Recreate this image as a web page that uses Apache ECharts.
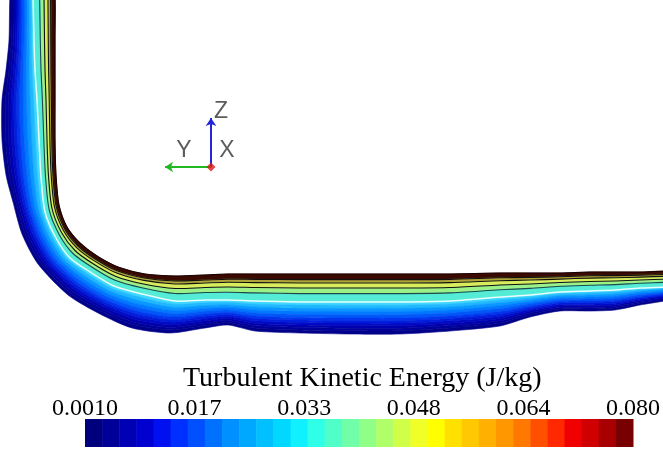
<!DOCTYPE html>
<html>
<head>
<meta charset="utf-8">
<script src="https://cdn.jsdelivr.net/npm/echarts@6/dist/echarts.min.js"></script>
<style>
  html, body { margin: 0; padding: 0; background: #fff; }
  #chart { width: 663px; height: 449px; }
</style>
</head>
<body>
<div id="chart"></div>
<script>
// cross-sections along the wall: wall edge, white contour line, outer edge of the layer
const wallPts = [
  [55, -5], [55, 40], [55, 70], [55, 100], [55, 140], [56, 175], [59, 205], [67, 227],
  [80, 243], [97, 256], [118, 267], [145, 274], [175, 276], [205, 275], [228, 274],
  [255, 274], [300, 274], [350, 274], [400, 274], [450, 274], [500, 273], [530, 273],
  [560, 273], [590, 272], [615, 272], [640, 272], [670, 271]
];
const whitePts = [
  [33, -5], [34, 40], [35, 70], [37, 100], [39, 140], [41, 177], [45, 212], [56, 238],
  [70, 258], [90, 272], [114, 286], [142, 294], [175, 301], [205, 300], [228, 300],
  [255, 301], [300, 302], [350, 302], [400, 302], [450, 301], [500, 297], [530, 295],
  [560, 292], [590, 291], [615, 290], [640, 288], [670, 287]
];
const outerPts = [
  [10, -5], [9, 40], [6, 70], [2, 100], [2, 140], [6, 175], [13, 202], [22, 234],
  [38, 264], [68, 295], [100, 314], [132, 328], [170, 333], [205, 328], [228, 325],
  [255, 331], [300, 333], [350, 334], [400, 334], [450, 331], [500, 326], [530, 317],
  [560, 311], [590, 311], [615, 310], [640, 305], [670, 300]
];

// bands: [from, to] in section units (0 wall, 1 white line, 2 outer edge)
const bandFrom = [0, 0.2, 0.32, 0.5, 0.7, 1.0, 1.1, 1.2, 1.3, 1.4, 1.5, 1.58, 1.66, 1.74, 1.82, 1.9];
const bandTo   = [0.2, 0.32, 0.5, 0.7, 1.0, 1.1, 1.2, 1.3, 1.4, 1.5, 1.58, 1.66, 1.74, 1.82, 1.9, 2.0];
const bandColors = ['#3a0a00', '#b0a438', '#d8ec5c', '#9cf088', '#54ecd6',
  '#40d8ff', '#20b8ff', '#0898ff', '#0078ff', '#0058f8', '#0038ee', '#0020de',
  '#000cc8', '#0000b0', '#00009c', '#00008a'];

// contour lines drawn on top
const lineLevels = [0, 0.2, 0.32, 0.5, 0.7, 1.0];
const lineColors = ['#1a0000', '#111', '#111', '#111', '#1c4a48', '#e8ffff'];

// colour legend
const colorbarColors = ['#00007c', '#000098', '#0000b4', '#0000d0', '#0010f0', '#0030ff',
  '#0050ff', '#0070ff', '#0090ff', '#00a8ff', '#00c0ff', '#00d8ff', '#10f0ff', '#30ffe8',
  '#50ffc8', '#70ffa8', '#90ff88', '#b0ff68', '#d0ff48', '#f0ff28', '#ffff00', '#ffe000',
  '#ffc800', '#ffb000', '#ff9800', '#ff7800', '#ff5000', '#ff2800', '#f00000', '#d00000',
  '#a80000', '#780000'];
const tickLabels = ['0.0010', '0.017', '0.033', '0.048', '0.064', '0.080'];

// coordinate triad
const triadOrigin = [211, 167];
const triadArrows = [
  { to: [211, 118], color: '#2424d8' },
  { to: [165, 167], color: '#22b822' }
];
const triadLabels = [['Z', 221, 112], ['Y', 184, 151], ['X', 227, 151]];

function sectionPoint(i, s) {
  const w = wallPts[i], m = whitePts[i], o = outerPts[i];
  if (s <= 1) return [w[0] + (m[0] - w[0]) * s, w[1] + (m[1] - w[1]) * s];
  const t = s - 1;
  return [m[0] + (o[0] - m[0]) * t, m[1] + (o[1] - m[1]) * t];
}
function levelLine(s, api) {
  return wallPts.map((_, i) => api.coord(sectionPoint(i, s)));
}

const chart = echarts.init(document.getElementById('chart'));
const option = {
  animation: false,
  backgroundColor: '#fff',
  title: {
    text: 'Turbulent Kinetic Energy (J/kg)',
    left: 183,
    top: 365,
    padding: 0,
    textStyle: { fontFamily: 'Liberation Serif', fontSize: 28, fontWeight: 'normal', color: '#000' }
  },
  grid: [
    { left: 0, top: 0, width: 663, height: 449 },
    { left: 85, top: 419, width: 553, height: 28 }
  ],
  xAxis: [
    { gridIndex: 0, type: 'value', min: 0, max: 663, show: false },
    { gridIndex: 1, type: 'value', min: 0, max: 32, show: false },
    {
      gridIndex: 1, type: 'value', min: 0, max: 5, interval: 1, position: 'top',
      axisLine: { show: false }, axisTick: { show: false }, splitLine: { show: false },
      axisLabel: {
        margin: -2, fontFamily: 'Liberation Serif', fontSize: 24, color: '#000',
        formatter: v => tickLabels[Math.round(v)]
      }
    }
  ],
  yAxis: [
    { gridIndex: 0, type: 'value', min: 0, max: 449, inverse: true, show: false },
    { gridIndex: 1, type: 'value', min: 0, max: 1, show: false }
  ],
  series: [
    {
      type: 'custom',
      xAxisIndex: 0, yAxisIndex: 0,
      clip: true,
      data: bandColors.map((c, k) => [k, 0]),
      renderItem: (params, api) => {
        const k = params.dataIndex;
        const a = levelLine(bandFrom[k], api);
        const b = levelLine(bandTo[k], api).reverse();
        return {
          type: 'polygon',
          shape: { points: a.concat(b), smooth: 0.25 },
          style: { fill: bandColors[k], stroke: bandColors[k], lineWidth: 0.6 }
        };
      }
    },
    {
      type: 'custom',
      xAxisIndex: 0, yAxisIndex: 0,
      clip: true,
      data: lineLevels.map((s, k) => [k, 0]),
      renderItem: (params, api) => {
        const k = params.dataIndex;
        return {
          type: 'polyline',
          shape: { points: levelLine(lineLevels[k], api), smooth: 0.25 },
          style: { stroke: lineColors[k], lineWidth: k === 5 ? 1.5 : 1.1, fill: null }
        };
      }
    },
    {
      type: 'lines',
      coordinateSystem: 'cartesian2d',
      xAxisIndex: 0, yAxisIndex: 0,
      symbol: ['none', 'arrow'],
      symbolSize: 8,
      data: triadArrows.map(a => ({
        coords: [triadOrigin, a.to],
        lineStyle: { color: a.color, width: 2, opacity: 1 }
      }))
    },
    {
      type: 'scatter',
      xAxisIndex: 0, yAxisIndex: 0,
      symbol: 'diamond',
      symbolSize: 9,
      itemStyle: { color: '#e01818' },
      data: [triadOrigin]
    },
    {
      type: 'scatter',
      xAxisIndex: 0, yAxisIndex: 0,
      symbolSize: 0,
      data: triadLabels.map(l => ({ name: l[0], value: [l[1], l[2]] })),
      label: {
        show: true, position: 'inside', formatter: '{b}',
        fontFamily: 'Liberation Sans', fontSize: 23, color: '#333'
      }
    },
    {
      type: 'custom',
      xAxisIndex: 1, yAxisIndex: 1,
      data: colorbarColors.map((c, i) => [i, 0]),
      renderItem: (params, api) => {
        const i = params.dataIndex;
        const p0 = api.coord([i, 0]);
        const p1 = api.coord([i + 1, 1]);
        return {
          type: 'rect',
          shape: { x: p0[0], y: p1[1], width: p1[0] - p0[0] + 0.5, height: p0[1] - p1[1] },
          style: { fill: colorbarColors[i] }
        };
      }
    }
  ]
};
chart.setOption(option);
</script>
</body>
</html>
